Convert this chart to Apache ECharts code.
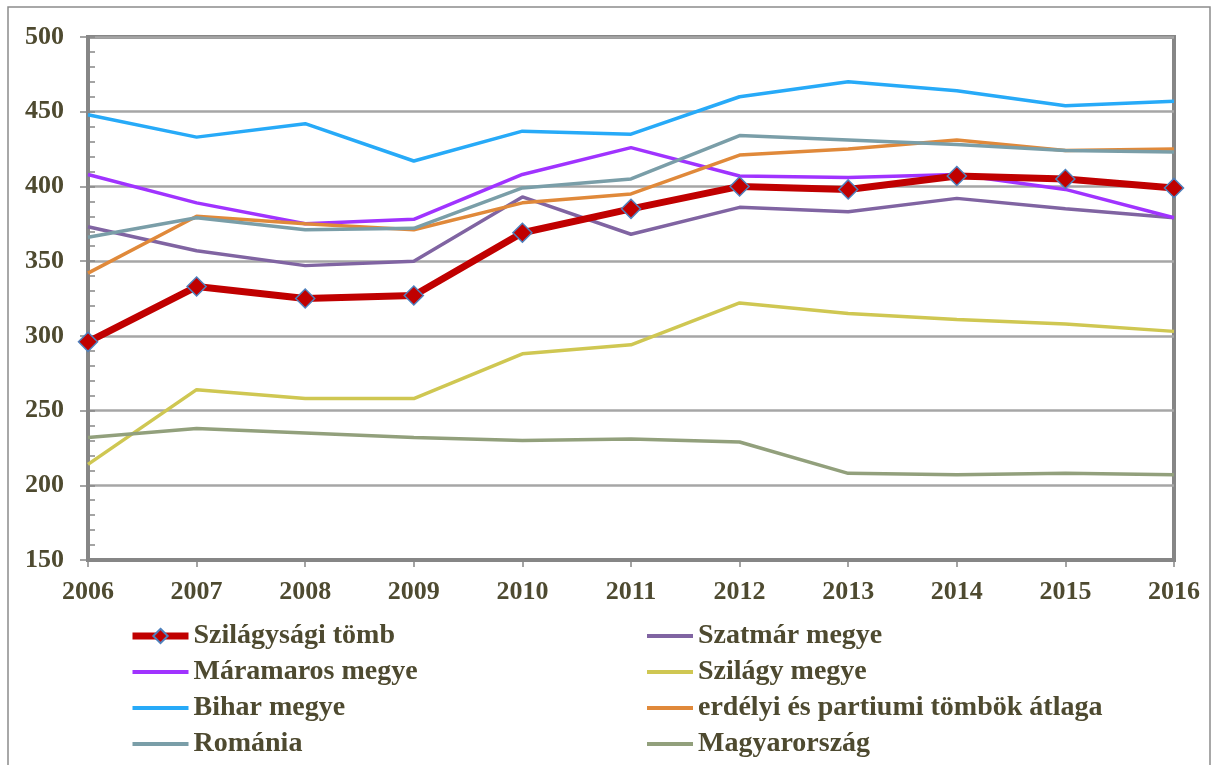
<!DOCTYPE html>
<html>
<head>
<meta charset="utf-8">
<script src="https://cdn.jsdelivr.net/npm/echarts@6/dist/echarts.min.js"></script>
<style>html,body{margin:0;padding:0;background:#fff}#c{width:1215px;height:765px}</style>
</head>
<body>
<div id="c"></div>
<script>
const years = ['2006','2007','2008','2009','2010','2011','2012','2013','2014','2015','2016'];
const szilagysagiTomb = [296, 333, 325, 327, 369, 385, 400, 398, 407, 405, 399];
const szatmar = [373, 357, 347, 350, 393, 368, 386, 383, 392, 385, 379];
const maramaros = [408, 389, 375, 378, 408, 426, 407, 406, 408, 398, 379];
const szilagy = [214, 264, 258, 258, 288, 294, 322, 315, 311, 308, 303];
const bihar = [448, 433, 442, 417, 437, 435, 460, 470, 464, 454, 457];
const erdelyi = [342, 380, 375, 371, 389, 395, 421, 425, 431, 424, 425];
const romania = [366, 379, 371, 372, 399, 405, 434, 431, 428, 424, 423];
const magyarorszag = [232, 238, 235, 232, 230, 231, 229, 208, 207, 208, 207];
const yTicks = {min: 150, max: 500, step: 50};
const legendCol1 = ['Szilágysági tömb', 'Máramaros megye', 'Bihar megye', 'Románia'];
const legendCol2 = ['Szatmár megye', 'Szilágy megye', 'erdélyi és partiumi tömbök átlaga', 'Magyarország'];

const axisFont = {fontFamily: 'Liberation Serif', fontWeight: 'bold', fontSize: 26, color: '#4E4A30'};
const legendFont = {fontFamily: 'Liberation Serif', fontWeight: 'bold', fontSize: 28, color: '#4E4A30', lineHeight: 28};
const chart = echarts.init(document.getElementById('c'));
function ln(name, data, color) {
  return {name, type: 'line', data, symbol: 'none', lineStyle: {color, width: 3.5}, itemStyle: {color}, z: 2};
}
function legItem(name) {
  if (name === 'Szilágysági tömb') return {name, lineStyle: {width: 7}};
  return {name, itemStyle: {opacity: 0}, lineStyle: {width: 4}};
}
chart.setOption({
  animation: false,
  backgroundColor: '#fff',
  graphic: [{type: 'rect', shape: {x: 8, y: 7, width: 1202, height: 800}, style: {fill: 'none', stroke: '#8c8c8c', lineWidth: 1.5}, silent: true}],
  grid: {left: 88, right: 41, top: 37, bottom: 205, show: true, borderColor: '#868686', borderWidth: 4, backgroundColor: 'transparent'},
  legend: [
    {left: 124, top: 617, orient: 'vertical', itemWidth: 56, itemHeight: 18, itemGap: 8,
     textStyle: legendFont, data: legendCol1.map(legItem)},
    {left: 640, top: 617, orient: 'vertical', itemWidth: 46, itemHeight: 18, itemGap: 8,
     textStyle: legendFont, data: legendCol2.map(legItem)}
  ],
  xAxis: {type: 'category', data: years, boundaryGap: false,
    axisLine: {lineStyle: {color: '#868686', width: 4}},
    axisTick: {show: true, alignWithLabel: true, length: 7, lineStyle: {color: '#868686', width: 1.5}},
    axisLabel: Object.assign({margin: 19}, axisFont),
    splitLine: {show: false}},
  yAxis: [
    {type: 'value', min: yTicks.min, max: yTicks.max, interval: yTicks.step,
     axisLine: {show: true, lineStyle: {color: '#868686', width: 4}},
     axisTick: {show: true, length: 8, lineStyle: {color: '#868686', width: 1.5}},
     axisLabel: Object.assign({margin: 24}, axisFont),
     splitLine: {show: true, lineStyle: {color: '#A6A6A6', width: 2.5}}},
    {type: 'value', min: yTicks.min, max: yTicks.max, interval: yTicks.step, position: 'left',
     axisLine: {show: false}, axisLabel: {show: false}, splitLine: {show: false},
     axisTick: {show: true, inside: true, length: 7, lineStyle: {color: '#868686', width: 1.5}},
     minorTick: {show: true, splitNumber: 5, length: 7, lineStyle: {color: '#868686', width: 1.5}}}
  ],
  series: [
    {name: 'Szilágysági tömb', type: 'line', data: szilagysagiTomb, symbol: 'diamond', symbolSize: 19,
     lineStyle: {color: '#C00000', width: 7}, itemStyle: {color: '#C00000', borderColor: '#4F81BD', borderWidth: 1.5}, z: 5},
    ln('Szatmár megye', szatmar, '#8064A2'),
    ln('Máramaros megye', maramaros, '#A033FF'),
    ln('Szilágy megye', szilagy, '#CFC752'),
    ln('Bihar megye', bihar, '#27AAF8'),
    ln('erdélyi és partiumi tömbök átlaga', erdelyi, '#E0893A'),
    ln('Románia', romania, '#7A9EA8'),
    ln('Magyarország', magyarorszag, '#92A07C')
  ]
});
</script>
</body>
</html>
